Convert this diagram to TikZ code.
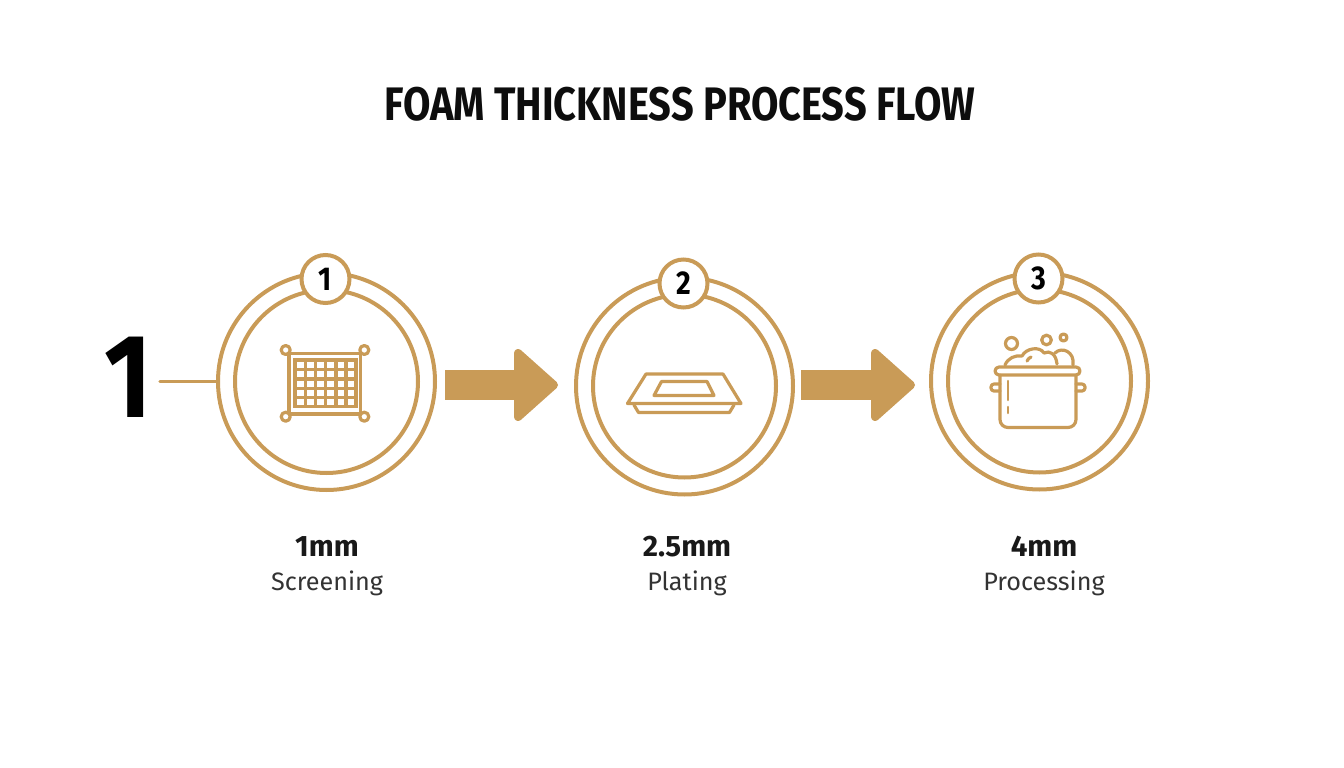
\documentclass[tikz,border=0pt]{standalone}
\usepackage{fontspec}
\setmainfont{Fira Sans}
\newfontfamily\titlefont[FakeStretch=0.846]{Fira Sans}
\newfontfamily\leadfont[FakeStretch=0.86]{Fira Sans}
\usetikzlibrary{arrows.meta}
\definecolor{foamgold}{HTML}{C99B57}
\newcommand{\fsize}[1]{\fontsize{#1}{#1}\selectfont}
\tikzset{
  ring/.style={circle, draw=foamgold, line width=4pt, inner sep=0pt, minimum size=#1},
  badge/.style={ring=48pt, fill=white, font=\leadfont\fsize{33}\bfseries},
  icon/.style={draw=foamgold, line width=3.2pt, line join=round, line cap=round},
  thin icon/.style={icon, line width=3.3pt, line cap=butt},
  flow/.style={draw=foamgold, line width=30pt,
    -{Triangle[length=46pt, width=80pt, line width=8pt, round, fill=foamgold, color=foamgold]}},
  value/.style={anchor=base, font=\fsize{29.5}\bfseries, text=black!90},
  caption/.style={anchor=base, font=\fsize{25.2}, text=black!80}
}
\begin{document}
\begin{tikzpicture}[x=1pt, y=-1pt]
  \useasboundingbox (0,0) rectangle (1344,768);

  \node[anchor=base, font=\titlefont\fsize{47}\bfseries, text=black!95] (title) at (680,121) {FOAM THICKNESS PROCESS FLOW};

  \foreach \n/\cx/\cy/\val/\lab/\tx in {1/326.5/381.5/1mm/Screening/327, 2/684.5/386/2.5mm/Plating/687, 3/1039.5/381/4mm/Processing/1044} {
    \node[ring=217pt] (ring-\n) at (\cx,\cy) {};
    \node[ring=183pt] (core-\n) at (\cx,\cy) {};
    \node[badge] (badge-\n) at (\cx-1,\cy-102.5) {\n};
    \node[value] (value-\n) at (\tx,556) {\val};
    \node[caption] (caption-\n) at (\tx,590) {\lab};
  }

  \node[anchor=base, font=\leadfont\fsize{119}\bfseries, text=black, inner sep=0pt] (lead) at (128,417) {1};
  \coordinate (stub) at (160,381.5);
  \draw[icon] (stub) -- (ring-1.west);

  \draw[flow, shorten <=8pt, shorten >=16pt] ([yshift=-3.5pt]ring-1.east) -- ([yshift=-3.5pt]ring-1.east -| ring-2.west);
  \draw[flow, shorten <=6pt, shorten >=14pt] ([yshift=1pt]ring-2.east) -- ([yshift=1pt]ring-2.east -| ring-3.west);

  \foreach \x/\y in {285.7/350, 364.3/350, 285.7/416.7, 364.3/416.7} {
    \draw[icon] (\x,\y) circle (4.5);
  }
  \draw[icon] (290,353.3) -- (360.5,353.3) (290,414) -- (360.5,414) (289,354) -- (289,413) (360.7,354) -- (360.7,413);
  \foreach \x in {295, 305.3, 315.5, 325.7, 335.9, 346, 356} {
    \draw[thin icon] (\x,358.4) -- (\x,407.8);
  }
  \foreach \y in {360, 369.4, 379, 388.4, 397.7, 406.2} {
    \draw[thin icon] (293.4,\y) -- (357.6,\y);
  }

  \draw[icon] (646,374) -- (723,374) -- (741,403.5) -- (627.5,403.5) -- cycle;
  \draw[icon] (661.5,381.5) -- (707,381.5) -- (714,395.5) -- (654,395.5) -- cycle;
  \draw[icon] (634,405) -- (638.5,412.5) -- (729.5,412.5) -- (734,405);

  \draw[icon] (1011.5,343.5) circle (6);
  \draw[icon] (1046.5,340) circle (4.8);
  \draw[icon] (1063.5,337.5) circle (3.5);
  \draw[icon] (1005,365) .. controls (1008,358) and (1015,355) .. (1022,356)
    .. controls (1026,348) and (1040,346) .. (1044,353)
    .. controls (1050,350) and (1056,354) .. (1057,364);
  \draw[icon] (1055,353) .. controls (1062,346) and (1075,352) .. (1073,365);
  \draw[icon] (1027,361) .. controls (1028,359) and (1029,358) .. (1031,357);
  \draw[icon, rounded corners=4] (995,367) rectangle (1080,375);
  \draw[icon, rounded corners=8] (1000,375) -- (1000,427.5) -- (1076,427.5) -- (1076,375);
  \draw[icon, rounded corners=3] (1000,384) -- (991,384) -- (991,391) -- (1000,391);
  \draw[icon, rounded corners=3] (1076,384) -- (1085,384) -- (1085,391) -- (1076,391);
  \draw[icon, line width=2.6pt] (1008,381) -- (1008,400) (1008,407) -- (1008,413);
\end{tikzpicture}
\end{document}
